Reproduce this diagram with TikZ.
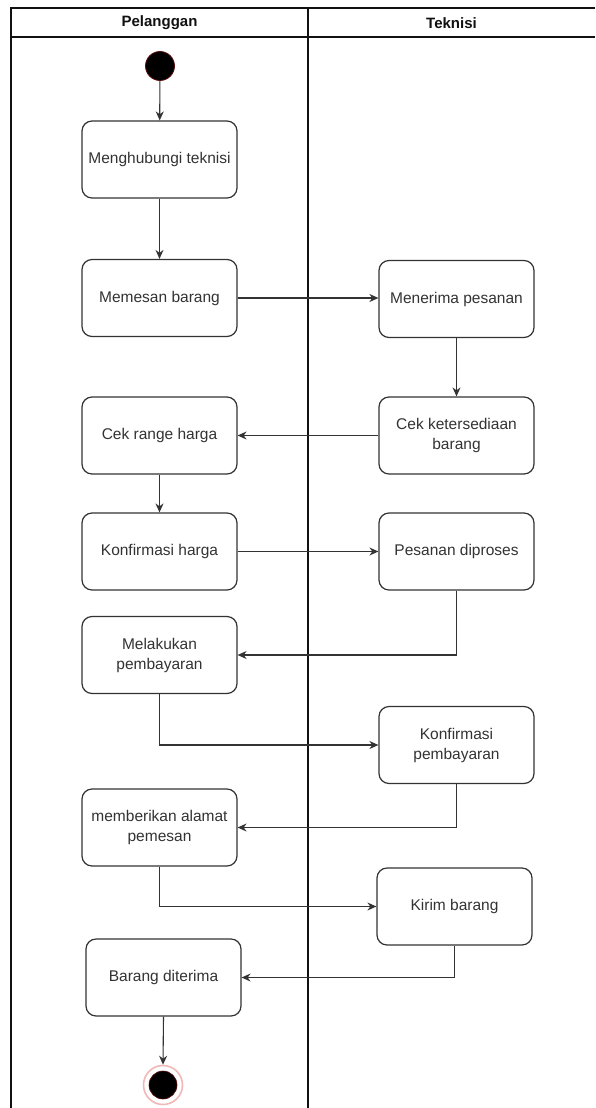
\documentclass[tikz,border=0pt]{standalone}
\usepackage{fontspec}
\setmainfont{Liberation Sans}
\usetikzlibrary{arrows.meta}
\definecolor{ink}{HTML}{333333}
\definecolor{lane}{HTML}{111111}
\definecolor{ringred}{HTML}{F2B8B8}
\definecolor{dotred}{HTML}{5A0A0A}
\tikzset{
  act/.style={draw=ink, line width=1.2pt, rounded corners=10pt, fill=white,
    minimum width=155pt, minimum height=77pt, align=center, text=ink,
    font=\fontsize{15.5}{20}\selectfont, inner sep=2pt},
  flow/.style={draw=ink, line width=1.1pt, -{Stealth[length=9pt,width=8pt]}},
  laneline/.style={draw=lane, line width=1.3pt},
  lanehead/.style={text=lane, font=\bfseries\fontsize{15}{17}\selectfont}
}
\begin{document}
\begin{tikzpicture}[x=1pt,y=-1pt]
\useasboundingbox (0,0) rectangle (595,1108);
\fill[white] (0,0) rectangle (595,1108);

% swimlanes
\draw[laneline] (595,8) -- (11,8) -- (11,1108);
\draw[laneline] (11,37) -- (595,37);
\draw[laneline] (308,8) -- (308,1108);
\node[lanehead] (hp) at (159.5,23) {Pelanggan};
\node[lanehead] (ht) at (451.5,23) {Teknisi};

% initial and final states
\node[circle, fill=black, draw=dotred, line width=0.8pt, minimum size=29pt, inner sep=0pt] (start) at (160,66) {};
\node[circle, fill=white, draw=ringred, line width=1.6pt, minimum size=39pt, inner sep=0pt] (finish) at (163,1085) {};
\node[circle, fill=black, draw=dotred, line width=0.6pt, minimum size=28pt, inner sep=0pt] (finishdot) at (163,1085) {};

% activities
\node[act] (n1) at (159.5,159.5) {Menghubungi teknisi};
\node[act] (n2) at (159.5,298) {Memesan barang};
\node[act] (n3) at (456.5,299) {Menerima pesanan};
\node[act] (n4) at (456.5,435.5) {Cek ketersediaan\\barang};
\node[act] (n5) at (159.5,435.5) {Cek range harga};
\node[act] (n6) at (159.5,551.5) {Konfirmasi harga};
\node[act] (n7) at (456.5,551.5) {Pesanan diproses};
\node[act] (n8) at (159.5,655) {Melakukan\\pembayaran};
\node[act] (n9) at (456.5,745) {Konfirmasi\\pembayaran};
\node[act] (n10) at (159.5,827.5) {memberikan alamat\\pemesan};
\node[act] (n11) at (454.5,906.5) {Kirim barang};
\node[act] (n12) at (163.5,977.5) {Barang diterima};

% control flow
\draw[flow] (start) -- (n1);
\draw[flow] (n1) -- (n2);
\draw[flow] (n2.east) -- (n3.west |- n2.east);
\draw[flow] (n3) -- (n4);
\draw[flow] (n4) -- (n5);
\draw[flow] (n5) -- (n6);
\draw[flow] (n6) -- (n7);
\draw[flow] (n7.south) |- (n8.east);
\draw[flow] (n8.south) |- (n9.west);
\draw[flow] (n9.south) |- (n10.east);
\draw[flow] (n10.south) |- (n11.west);
\draw[flow] (n11.south) |- (n12.east);
\draw[flow] (n12.south) -- (finish.north);
\end{tikzpicture}
\end{document}
